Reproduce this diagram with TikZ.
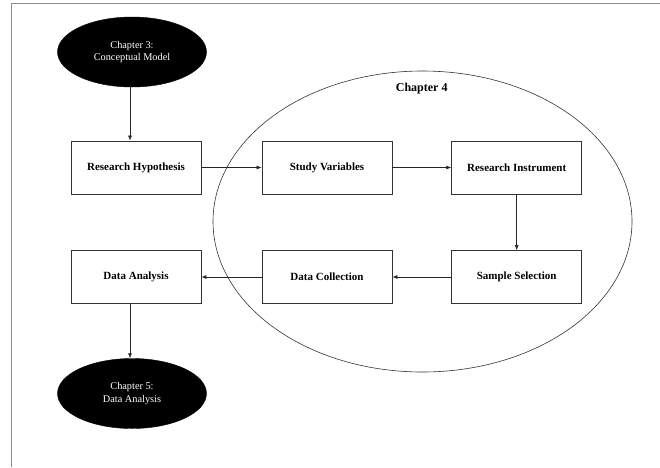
\documentclass[tikz,border=0pt]{standalone}
\usepackage{fontspec}
\setmainfont{Liberation Serif}
\usetikzlibrary{shapes.geometric,arrows.meta}
\begin{document}
\begin{tikzpicture}[x=1pt,y=-1pt,
  stepbox/.style={draw=black!80,line width=0.8pt,minimum width=130pt,minimum height=53pt,
    inner sep=0pt,font=\fontsize{11}{13}\selectfont\bfseries},
  chapblob/.style={ellipse,fill=black,draw=black,minimum width=149pt,minimum height=70pt,
    inner sep=0pt,text=white,align=center,font=\fontsize{10.3}{12.3}\selectfont},
  flow/.style={draw=black!85,line width=0.6pt,-{Latex[length=5pt,width=4pt]}}]
\useasboundingbox (0,0) rectangle (660,467);
% page frame (top and left edges only)
\draw[black!45,line width=1pt] (11,467) -- (11,3) -- (660,3);
% chapter 4 region
\draw[black!80,line width=0.6pt] (422.5,221.5) ellipse [x radius=209.5pt, y radius=150.5pt];
\node[font=\fontsize{12}{14}\selectfont\bfseries] (ch4) at (421.7,89) {Chapter 4};
% chapter nodes
\node[chapblob] (ch3) at (132,52) {Chapter 3:\\Conceptual Model};
\node[chapblob] (ch5) at (132,393.5) {Chapter 5:\\Data Analysis};
% steps
\node[stepbox] (rh) at (136,167.5) {Research Hypothesis};
\node[stepbox] (sv) at (327,167.5) {Study Variables};
\node[stepbox] (ri) at (516.7,167.5) {Research Instrument};
\node[stepbox] (ss) at (516.7,277) {Sample Selection};
\node[stepbox] (dc) at (327,277) {Data Collection};
\node[stepbox] (da) at (136,277) {Data Analysis};
% connectors
\draw[flow] (ch3.south -| 130,0) -- (rh.north -| 130,0);
\draw[flow] (rh) -- (sv);
\draw[flow] (sv) -- (ri);
\draw[flow] (ri) -- (ss);
\draw[flow] (ss) -- (dc);
\draw[flow] (dc) -- (da);
\draw[flow] (da.south -| 130,0) -- (ch5.north -| 130,0);
\end{tikzpicture}
\end{document}
